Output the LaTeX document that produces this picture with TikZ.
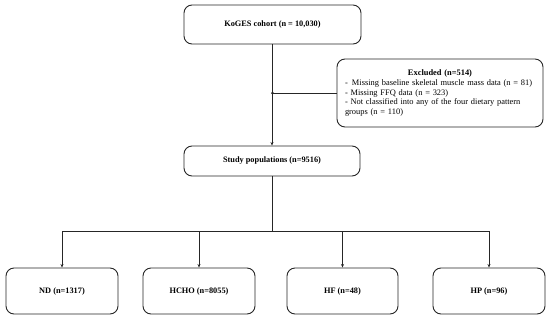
\documentclass[tikz,border=0pt]{standalone}
\usepackage{fontspec}
\setmainfont{Liberation Serif}
\usetikzlibrary{arrows.meta}
\begin{document}
\begin{tikzpicture}[x=1pt,y=-1pt,
  box/.style={draw=black!85, line width=0.9pt, rounded corners=8pt, inner sep=0pt, align=center, font=\fontsize{8.3}{10}\selectfont\bfseries},
  conn/.style={draw=black!85, line width=0.8pt},
  arr/.style={conn, -{Stealth[length=3.5pt,width=3pt]}}]
\useasboundingbox (0,0) rectangle (550,317);
\node[box, minimum width=177pt, minimum height=39pt] (kog) at (272.5,24.5) {KoGES cohort (n = 10,030)};
\node[box, minimum width=176pt, minimum height=30pt] (study) at (272,161) {Study populations (n=9516)};
\node[box, minimum width=206pt, minimum height=68pt, align=left, font=\fontsize{8.4}{9.9}\selectfont, text width=190pt] (exc) at (440,93)
 {\hfill\textbf{Excluded (n=514)}\hfill\null\\
 -\, Missing baseline skeletal muscle mass data (n = 81)\\
 - Missing FFQ data (n = 323)\\
 - Not classified into any of the four dietary pattern\\
 groups (n = 110)};
\node[box, minimum width=112pt, minimum height=46pt] (nd) at (62,291) {ND (n=1317)};
\node[box, minimum width=112pt, minimum height=46pt] (hcho) at (199,291) {HCHO (n=8055)};
\node[box, minimum width=111pt, minimum height=46pt] (hf) at (342.5,291) {HF (n=48)};
\node[box, minimum width=112pt, minimum height=46pt] (hp) at (489,291) {HP (n=96)};
\coordinate (dot) at (kog.south |- exc.west);
\coordinate (split) at (272,231);
\draw[arr] (kog.south -| 272,0) -- (study.north -| 272,0);
\draw[conn] (dot) -- (exc.west);
\fill[black!85] (dot) circle (1.5pt);
\draw[conn] (study.south -| 272,0) -- (split);
\draw[conn] (nd.north |- split) -- (hp.north |- split);
\foreach \n in {nd,hcho,hf,hp}{\draw[arr] (\n.north |- split) -- (\n.north);}
\end{tikzpicture}
\end{document}
